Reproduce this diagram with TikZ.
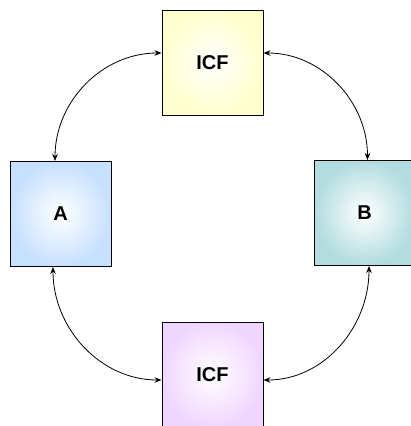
\documentclass[tikz,border=0pt]{standalone}
\usepackage{fontspec}
\setsansfont{Liberation Sans}
\usetikzlibrary{arrows.meta}

\definecolor{icfyellow}{RGB}{255,255,205}
\definecolor{ablue}{RGB}{198,224,255}
\definecolor{bteal}{RGB}{178,220,222}
\definecolor{icflilac}{RGB}{240,214,255}

\begin{document}
\begin{tikzpicture}[
		x=1pt, y=-1pt,
		line width=0.8pt,
		>={Stealth[length=7pt,width=5.5pt]},
		block/.style={draw=black, line width=1pt, shading=radial, inner color=white,
			minimum width=101pt, minimum height=105pt, inner sep=0pt,
			font=\sffamily\bfseries\fontsize{20}{24}\selectfont},
	]
		\useasboundingbox (0,0) rectangle (411,426);

		% blocks
		\node[block, outer color=icfyellow] (top) at (212.5, 62.5) {ICF};
		\node[block, outer color=ablue] (a) at (60.5, 214) {A};
		\node[block, outer color=bteal] (b) at (364.5, 213) {B};
		\node[block, outer color=icflilac] (bot) at (212.5, 374.5) {ICF};

		% links
		\path [<->] ([yshift=9.5pt]top.west) edge[out=180, in=90] ([xshift=-5.5pt]a.north);
		\path [<->] ([yshift=9.5pt]top.east) edge[out=0, in=90] ([xshift=3pt]b.north);
		\path [<->] ([xshift=-7.5pt]a.south) edge[out=-90, in=180] ([yshift=-5.5pt]bot.west);
		\path [<->] ([yshift=-5.5pt]bot.east) edge[out=0, in=-90] ([xshift=4.5pt]b.south);
	\end{tikzpicture}
\end{document}
